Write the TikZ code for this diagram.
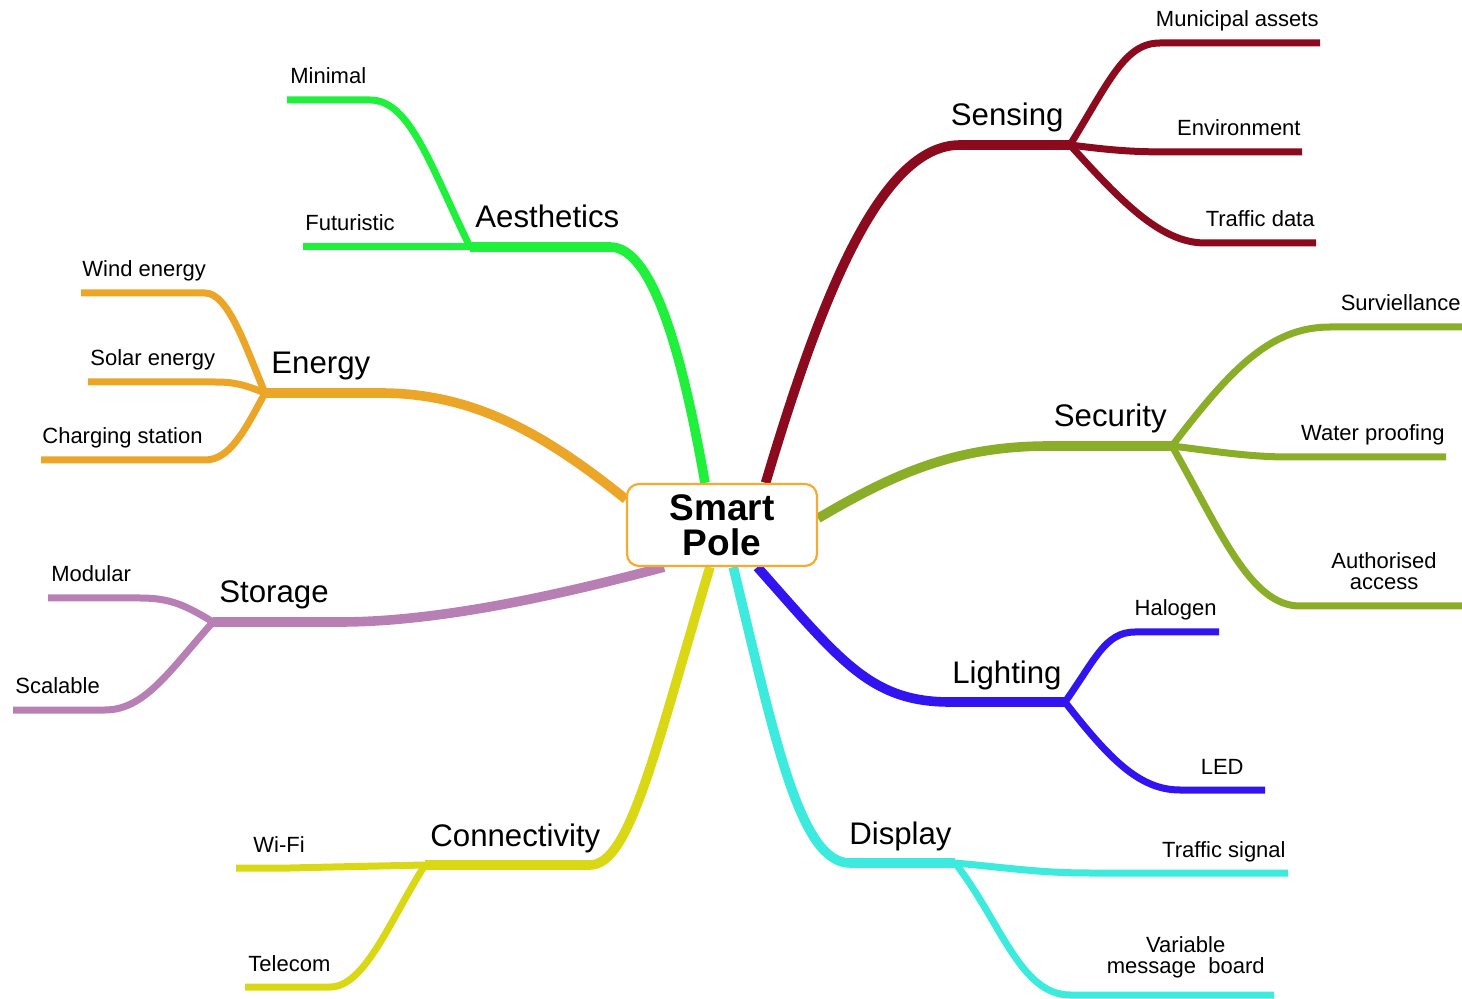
\documentclass[tikz,border=0pt]{standalone}
\usepackage{fontspec}
\setmainfont{Liberation Sans}
\usetikzlibrary{positioning,backgrounds}
\definecolor{aesth}{RGB}{30,240,60}
\definecolor{energy}{RGB}{235,166,40}
\definecolor{storage}{RGB}{183,127,180}
\definecolor{connect}{RGB}{218,216,20}
\definecolor{display}{RGB}{60,234,222}
\definecolor{lighting}{RGB}{50,20,240}
\definecolor{security}{RGB}{138,174,40}
\definecolor{sensing}{RGB}{139,10,30}
\definecolor{poleframe}{RGB}{247,170,45}

\begin{document}
\begin{tikzpicture}[
	x=0.5pt, y=-0.5pt,
	polebox/.style={
		rectangle,
		rounded corners=6pt,
		draw=poleframe,
		line width=1.1pt,
		fill=white,
		minimum width=95pt,
		minimum height=41pt,
		align=center,
		font=\fontsize{18.5}{17.5}\selectfont\bfseries},
	mainline/.style={line width=4.8pt, line join=round},
	subline/.style={line width=3.5pt, line join=round},
	mainlabel/.style={inner sep=0pt, font=\fontsize{15.6}{18}\selectfont},
	sublabel/.style={inner sep=0pt, align=center, font=\fontsize{11}{10.3}\selectfont}
	]
	\useasboundingbox (0,0) rectangle (1462,999);
	\node[polebox] (pole) at (722,525) {Smart\\Pole};
	
	% junctions
	\coordinate (aJ) at (470,247);
	\coordinate (eJ) at (265,393);
	\coordinate (stJ) at (213,622);
	\coordinate (cJ) at (425,865);
	\coordinate (dJ) at (955,863);
	\coordinate (lJ) at (1065,702);
	\coordinate (seJ) at (1172,446);
	\coordinate (snJ) at (1070,145);
	% free ends
	\coordinate (aMin) at (287,100);
	\coordinate (aFut) at (303,247);
	\coordinate (eWind) at (81,293);
	\coordinate (eSolar) at (88,382);
	\coordinate (eCharge) at (41,460);
	\coordinate (stMod) at (48,598);
	\coordinate (stScal) at (13,710);
	\coordinate (cWifi) at (236,868);
	\coordinate (cTel) at (245,987);
	\coordinate (dSig) at (1288,873);
	\coordinate (dVar) at (1274,995);
	\coordinate (lHal) at (1219,632);
	\coordinate (lLed) at (1265,790);
	\coordinate (seSurv) at (1462,327);
	\coordinate (seWater) at (1446,457);
	\coordinate (seAuth) at (1462,606);
	\coordinate (snMun) at (1320,43);
	\coordinate (snEnv) at (1302,152);
	\coordinate (snTraf) at (1316,243);
	
	\begin{scope}[on background layer]
		\draw[mainline, color=aesth] (pole.112) .. controls (680,340) and (650,247) .. (610,247) -- (aJ);
		\draw[mainline, color=sensing] (pole.44) .. controls (820,300) and (880,145) .. (960,145) -- (snJ);
		\draw[mainline, color=energy] (pole.165) .. controls (540,430) and (470,393) .. (380,393) -- (eJ);
		\draw[mainline, color=storage] (pole.216) .. controls (585,588) and (450,622) .. (340,622) -- (stJ);
		\draw[mainline, color=connect] (pole.254) .. controls (655,750) and (630,865) .. (590,865) -- (cJ);
		\draw[mainline, color=display] (pole.285) .. controls (775,740) and (800,863) .. (850,863) -- (dJ);
		\draw[mainline, color=lighting] (pole.310) .. controls (840,660) and (870,702) .. (950,702) -- (lJ);
		\draw[mainline, color=security] (pole.4) .. controls (900,470) and (960,446) .. (1050,446) -- (seJ);
		
		\foreach \col/\j/\e/\pa/\pb/\pc in {% colour/junction/end/controls/bend
			aesth/aJ/aMin/{430,165}/{410,100}/{370,100},
			aesth/aJ/aFut/{420,247}/{380,247}/{340,247},
			energy/eJ/eWind/{245,345}/{228,293}/{205,293},
			energy/eJ/eSolar/{245,385}/{235,382}/{215,382},
			energy/eJ/eCharge/{245,430}/{230,460}/{205,460},
			storage/stJ/stMod/{185,605}/{170,598}/{140,598},
			storage/stJ/stScal/{170,670}/{145,710}/{105,710},
			connect/cJ/cWifi/{380,866}/{330,867}/{290,868},
			connect/cJ/cTel/{390,920}/{365,987}/{330,987},
			display/dJ/dSig/{1010,868}/{1040,873}/{1090,873},
			display/dJ/dVar/{1000,920}/{1020,995}/{1070,995},
			lighting/lJ/lHal/{1095,660}/{1105,632}/{1135,632},
			lighting/lJ/lLed/{1110,760}/{1140,790}/{1180,790},
			security/seJ/seSurv/{1230,370}/{1270,327}/{1330,327},
			security/seJ/seWater/{1220,452}/{1250,457}/{1290,457},
			security/seJ/seAuth/{1220,530}/{1250,606}/{1300,606},
			sensing/snJ/snMun/{1110,80}/{1125,43}/{1160,43},
			sensing/snJ/snEnv/{1110,150}/{1130,152}/{1170,152},
			sensing/snJ/snTraf/{1120,200}/{1160,243}/{1205,243}}
		\draw[subline, color=\col] (\j) .. controls (\pa) and (\pb) .. (\pc) -- (\e);
	\end{scope}
	
	% branch labels
	\node[mainlabel, above right=9.5pt and 2.5pt of aJ, anchor=base west] (tAesth) {Aesthetics};
	\node[mainlabel, above right=9.5pt and 3pt of eJ, anchor=base west] (tEnergy) {Energy};
	\node[mainlabel, above right=9.5pt and 3pt of stJ, anchor=base west] (tStorage) {Storage};
	\node[mainlabel, above right=9.5pt and 2.5pt of cJ, anchor=base west] (tConnect) {Connectivity};
	\node[mainlabel, above left=9.5pt and 1.5pt of dJ, anchor=base east] (tDisplay) {Display};
	\node[mainlabel, above left=9.5pt and 1.5pt of lJ, anchor=base east] (tLighting) {Lighting};
	\node[mainlabel, above left=9.5pt and 2.5pt of seJ, anchor=base east] (tSecurity) {Security};
	\node[mainlabel, above left=9.5pt and 3pt of snJ, anchor=base east] (tSensing) {Sensing};
	
	% leaf labels
	\foreach \e/\name/\txt/\dx in {% end/name/text/shift
		aMin/tMin/Minimal/1.5pt,
		aFut/tFut/Futuristic/1pt,
		eWind/tWind/Wind energy/0.5pt,
		eSolar/tSolar/Solar energy/1pt,
		eCharge/tCharge/Charging station/0.5pt,
		stMod/tMod/Modular/1.5pt,
		stScal/tScal/Scalable/1pt,
		cWifi/tWifi/Wi-Fi/8.5pt,
		cTel/tTel/Telecom/1.5pt}
	\node[sublabel, above right=8pt and \dx of \e, anchor=base west] (\name) {\txt};
	
	\foreach \e/\name/\txt/\dx in {% end/name/text/shift
		snMun/tMun/Municipal assets/0.5pt,
		snEnv/tEnv/Environment/0.5pt,
		snTraf/tTraf/Traffic data/0.5pt,
		seSurv/tSurv/Surviellance/0.5pt,
		seWater/tWater/Water proofing/0.5pt,
		lHal/tHal/Halogen/1pt,
		lLed/tLed/LED/10.5pt,
		dSig/tSig/Traffic signal/1pt}
	\node[sublabel, above left=8pt and \dx of \e, anchor=base east] (\name) {\txt};
	
	\node[sublabel, above left=8pt and 12.5pt of seAuth, anchor=south east] (tAuth) {Authorised\\access};
	\node[sublabel, above left=8.5pt and 4.5pt of dVar, anchor=south east] (tVar) {Variable\\message~ board};
	
\end{tikzpicture}
\end{document}
